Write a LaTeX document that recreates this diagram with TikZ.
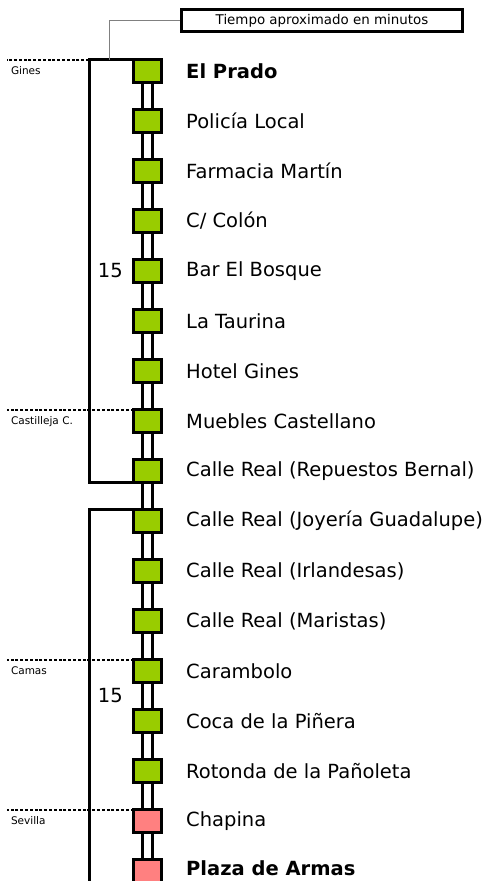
\documentclass[tikz,border=0pt]{standalone}
\usepackage{fontspec}
\setmainfont{DejaVu Sans}
\usetikzlibrary{positioning,calc}

\definecolor{stopgreen}{HTML}{99CC00}
\definecolor{stoppink}{HTML}{FF8080}

\tikzset{
  stop/.style = {draw, line width = 3pt, minimum width = 28pt, minimum height = 23pt,
                 inner sep = 0pt, outer sep = 0pt},
  stoplabel/.style = {anchor = west, inner sep = 0pt, font = \fontsize{19.5}{23}\selectfont},
  minutes/.style = {inner sep = 0pt, font = \fontsize{19.5}{23}\selectfont},
  rail/.style = {line width = 3pt},
  bracket/.style = {line width = 3pt},
  townline/.style = {line width = 2pt, dash pattern = on 3pt off 1.8pt},
  townlabel/.style = {anchor = north west, inner sep = 0pt, font = \fontsize{10.5}{12}\selectfont},
  leader/.style = {gray, line width = 1pt}
}

\begin{document}
\begin{tikzpicture}[x = 1pt, y = -1pt]
	 \useasboundingbox (0, 0) rectangle (494, 881);

	 % stops
	 \foreach \lbl [count = \i from 0] in {{\textbf{El Prado}}, {Policía Local}, {Farmacia Martín},
	   {C/ Colón}, {Bar El Bosque}, {La Taurina}, {Hotel Gines}, {Muebles Castellano},
	   {Calle Real (Repuestos Bernal)}, {Calle Real (Joyería Guadalupe)}, {Calle Real (Irlandesas)},
	   {Calle Real (Maristas)}, {Carambolo}, {Coca de la Piñera}, {Rotonda de la Pañoleta}}
	 {
	   \node[stop, fill = stopgreen] (s\i) at (147.5, 71 + 50*\i) {};
	   \node[stoplabel] (l\i) at (186, 71 + 50*\i) {\lbl};
	 }
	 \node[stop, fill = stoppink] (s15) at (147.5, 821) {};
	 \node[stoplabel] (l15) at (186, 821) {Chapina};
	 \node[stop, fill = stoppink] (s16) at (147.5, 871) {};
	 \node[stoplabel] (l16) at (186, 868) {\textbf{Plaza de Armas}};

	 % rails
	 \foreach \i [evaluate = \i as \j using int(\i + 1)] in {0, ..., 15}
	 {
	   \draw[rail] ([xshift = -5pt]s\i.south) -- ([xshift = -5pt]s\j.north);
	   \draw[rail] ([xshift = 5pt]s\i.south) -- ([xshift = 5pt]s\j.north);
	 }

	 % time brackets
	 \draw[bracket] (s0.north west) -- ++(-44.5, 0) coordinate (b1) |- (s8.south west);
	 \draw[bracket] (s9.north west) -- ++(-44.5, 0) coordinate (b2) -- ++(0, 400);
	 \node[minutes, left = 10.5pt of s4] (t1) {15};
	 \node[minutes, anchor = east] (t2) at ($(s12.west)!0.5!(s13.west) + (-10.5, 0)$) {15};

	 % municipal limits
	 \draw[townline] (b1) -- ++(-82, 0) node[townlabel, yshift = -6pt, xshift = 3pt] {Gines};
	 \draw[townline] (s7.north west) -- ++(-126.5, 0) node[townlabel, yshift = -6pt, xshift = 3pt] {Castilleja C.};
	 \draw[townline] (s12.north west) -- ++(-126.5, 0) node[townlabel, yshift = -6pt, xshift = 3pt] {Camas};
	 \draw[townline] (s15.north west) -- ++(-126.5, 0) node[townlabel, yshift = -6pt, xshift = 3pt] {Sevilla};

	 % legend
	 \node[draw, line width = 3pt, minimum width = 281pt, minimum height = 22pt, inner sep = 0pt,
	       font = \fontsize{13.4}{15}\selectfont] (legend) at (322, 20.5) {Tiempo aproximado en minutos};
	 \draw[leader] (legend.west) -| ($(b1) + (20, 0)$);
\end{tikzpicture}
\end{document}
